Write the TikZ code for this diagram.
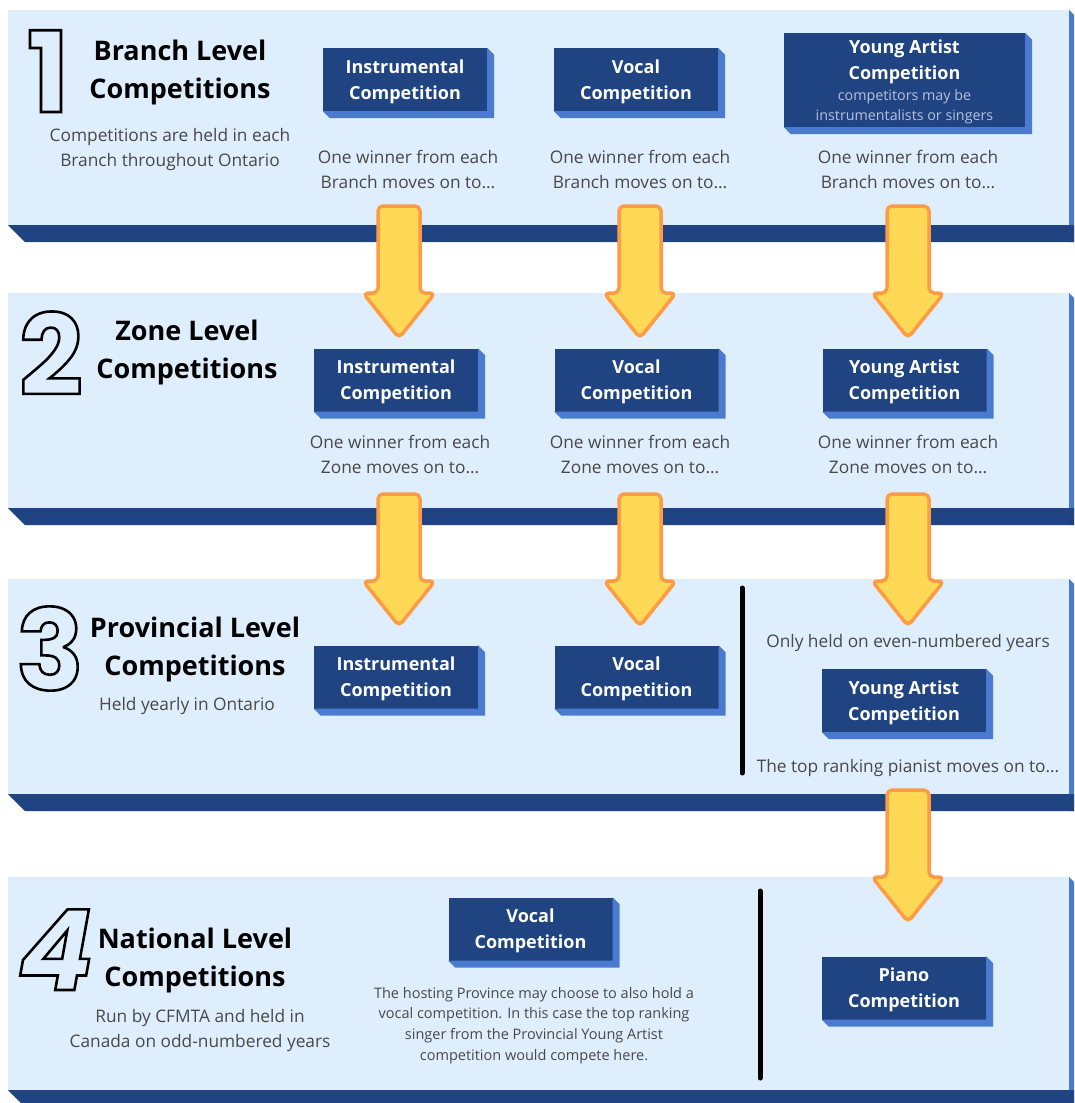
\documentclass[tikz,border=0pt]{standalone}
\usepackage{fontspec}
\setmainfont{Open Sans}
\newfontfamily\digitfont{Poppins}
\newfontfamily\digitslant[FakeSlant=0.18]{Poppins}
\definecolor{panelbg}{HTML}{DFEEFD}
\definecolor{darkblue}{HTML}{1F4481}
\definecolor{sideblue}{HTML}{4A7BD0}
\definecolor{arrowfill}{HTML}{FFD955}
\definecolor{arrowline}{HTML}{FF9A45}
\definecolor{bodygray}{HTML}{484848}
\definecolor{subtext}{HTML}{B6C2DC}
\newcommand\outl[1]{\special{pdf:literal direct 1 Tr 2.6 w}#1\special{pdf:literal direct 0 Tr 1 w}}
\newcommand\levelpanel[2]{%
  \fill[panelbg] (8,#1) rectangle (1069,#2);
  \fill[sideblue] (1069,#1) -- (1074,#1+5) -- (1074,#2+17) -- (1069,#2+17) -- cycle;
  \fill[darkblue] (8,#2) -- (1074,#2) -- (1074,#2+17) -- (25,#2+17) -- cycle;}
\newcommand\extrude[1]{%
  \fill[sideblue] (#1.north east) -- ([shift={(7pt,-7pt)}]#1.north east) -- ([shift={(7pt,-7pt)}]#1.south east) -- ([shift={(7pt,-7pt)}]#1.south west) -- (#1.south west) -- (#1.south east) -- cycle;}
\newcommand\blockarrow[2]{%
  \draw[bigarrow] (#1-21,#2) -- (#1+21,#2) -- (#1+21,#2+87) -- (#1+36,#2+87) -- (#1,#2+132) -- (#1-36,#2+87) -- (#1-21,#2+87) -- cycle;}
\tikzset{
  compbox/.style={fill=darkblue, text=white, font=\bfseries\fontsize{18}{26}\selectfont, align=center, inner sep=0pt, text depth=0pt, minimum width=164pt, minimum height=63pt},
  note/.style={text=bodygray, font=\fontsize{17.3}{25}\selectfont, align=center, inner sep=0pt},
  smallnote/.style={text=bodygray, font=\fontsize{14.5}{20.7}\selectfont, align=center, inner sep=0pt},
  subnote/.style={text=subtext, font=\fontsize{14.3}{20}\selectfont, align=center, inner sep=0pt},
  boxtext/.style={text=white, font=\bfseries\fontsize{18}{26}\selectfont, align=center, inner sep=0pt, text depth=0pt},
  ttl/.style={text=black, font=\bfseries\fontsize{27}{38}\selectfont, align=center, inner sep=0pt, text depth=0pt},
  digit/.style={font=\digitfont\bfseries\fontsize{112}{112}\selectfont, inner sep=0pt, anchor=base, text=black},
  bigarrow/.style={fill=arrowfill, draw=arrowline, line width=3.5pt, rounded corners=5pt, line join=round},
  divider/.style={line width=5pt, line cap=round, black},
}
\begin{document}
\begin{tikzpicture}[x=1pt,y=-1pt]
\useasboundingbox (0,0) rectangle (1074,1103);
\fill[white] (0,0) rectangle (1074,1103);

% panels
\levelpanel{10}{225}
\levelpanel{293}{508}
\levelpanel{579}{794}
\levelpanel{877}{1090}

% ---------- Level 1 ----------
\node[digit] (d1) at (48,112) {\outl{1}};
\node[ttl] (t1) at (180,69) {Branch Level\\Competitions};
\node[note] (s1) at (170,149.5) {Competitions are held in each\\Branch throughout Ontario};

\node[compbox] (i1) at (405,79.5) {Instrumental\\Competition};
\extrude{i1}
\node[compbox] (v1) at (636,79.5) {Vocal\\Competition};
\extrude{v1}
\node[compbox, minimum width=241pt, minimum height=94pt] (y1) at (904.5,80) {};
\extrude{y1}
\node[boxtext] (y1t) at (904.5,60) {Young Artist\\Competition};
\node[subnote] (y1s) at (904.5,107) {competitors may be\\instrumentalists or singers};

\node[note] (n1a) at (408,170) {One winner from each\\Branch moves on to…};
\node[note] (n1b) at (640,170) {One winner from each\\Branch moves on to…};
\node[note] (n1c) at (908,170) {One winner from each\\Branch moves on to…};

% ---------- Level 2 ----------
\node[digit] (d2) at (51,395) {\outl{2}};
\node[ttl] (t2) at (187,349) {Zone Level\\Competitions};

\node[compbox] (i2) at (396,380) {Instrumental\\Competition};
\extrude{i2}
\node[compbox] (v2) at (636.5,380) {Vocal\\Competition};
\extrude{v2}
\node[compbox] (y2) at (904.5,380) {Young Artist\\Competition};
\extrude{y2}

\node[note] (n2a) at (400,454) {One winner from each\\Zone moves on to…};
\node[note] (n2b) at (640,454) {One winner from each\\Zone moves on to…};
\node[note] (n2c) at (908,454) {One winner from each\\Zone moves on to…};

% ---------- Level 3 ----------
\node[digit] (d3) at (50,690) {\outl{3}};
\node[ttl] (t3) at (195,646) {Provincial Level\\Competitions};
\node[note] (s3) at (187,706) {Held yearly in Ontario};

\node[compbox] (i3) at (396,677) {Instrumental\\Competition};
\extrude{i3}
\node[compbox] (v3) at (636.5,677) {Vocal\\Competition};
\extrude{v3}
\draw[divider] (742,588) -- (742,773);
\node[note] (n3a) at (908,643) {Only held on even-numbered years};
\node[compbox] (y3) at (904,700.5) {Young Artist\\Competition};
\extrude{y3}
\node[note] (n3b) at (908,768) {The top ranking pianist moves on to…};

% ---------- Level 4 ----------
\node[digit, font=\digitslant\bfseries\fontsize{112}{112}\selectfont] (d4) at (50,990) {\outl{4}};
\node[ttl] (t4) at (195,957) {National Level\\Competitions};
\node[note] (s4) at (200,1030) {Run by CFMTA and held in\\Canada on odd-numbered years};

\node[compbox] (v4) at (530.5,929) {Vocal\\Competition};
\extrude{v4}
\node[smallnote] (n4) at (534,1025.5) {The hosting Province may choose to also hold a\\vocal competition. In this case the top ranking\\singer from the Provincial Young Artist\\competition would compete here.};
\draw[divider] (760,891) -- (760,1078);
\node[compbox] (p4) at (904,988) {Piano\\Competition};
\extrude{p4}

% ---------- arrows ----------
\blockarrow{399}{206}
\blockarrow{640}{206}
\blockarrow{908}{206}
\blockarrow{399}{494}
\blockarrow{640}{494}
\blockarrow{908}{494}
\blockarrow{908}{790}
\end{tikzpicture}
\end{document}
